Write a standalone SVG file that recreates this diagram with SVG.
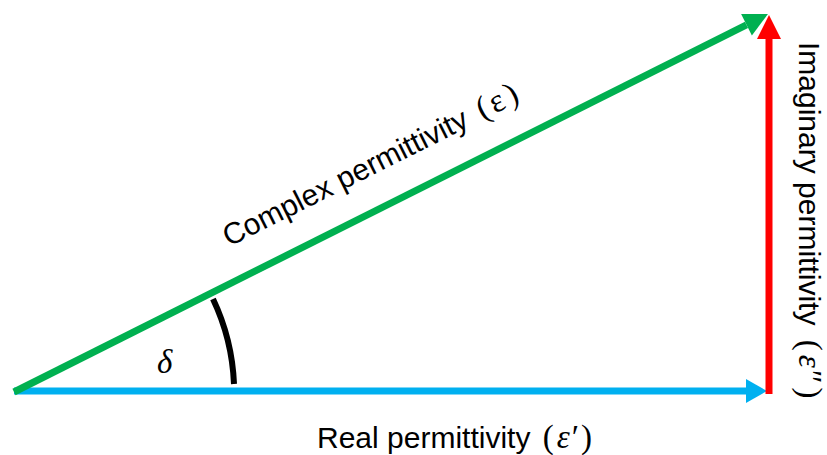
<svg xmlns="http://www.w3.org/2000/svg" width="827" height="455" viewBox="0 0 827 455">
<style>
.lbl{font-family:"Liberation Sans",Arial,sans-serif;font-size:30px;fill:#000}
.math{font-family:"Liberation Serif","DejaVu Serif",serif;font-size:33px}
.it{font-style:italic}
</style>
<defs>
<marker id="hb" markerUnits="userSpaceOnUse" markerWidth="21" markerHeight="24" refX="0" refY="12" orient="auto" overflow="visible"><path d="M0,0 L21,12 L0,24 z" fill="#00B0F0"/></marker>
<marker id="hr" markerUnits="userSpaceOnUse" markerWidth="24" markerHeight="24" refX="0" refY="12" orient="auto" overflow="visible"><path d="M0,0 L24,12 L0,24 z" fill="#FF0000"/></marker>
<marker id="hg" markerUnits="userSpaceOnUse" markerWidth="24" markerHeight="24" refX="0" refY="12" orient="auto" overflow="visible"><path d="M0,0 L24,12 L0,24 z" fill="#00B050"/></marker>
</defs>
<g id="connectors">
<line id="real" x1="14" y1="391" x2="746" y2="391" stroke="#00B0F0" stroke-width="7" marker-end="url(#hb)"/>
<line id="imag" x1="769" y1="394" x2="769" y2="39" stroke="#FF0000" stroke-width="7" marker-end="url(#hr)"/>
<line id="complex" x1="14" y1="392" x2="746.5" y2="24.8" stroke="#00B050" stroke-width="7" marker-end="url(#hg)"/>
<path id="angle" d="M213,299 A220,220 0 0 1 234,384" fill="none" stroke="#000" stroke-width="6"/>
</g>
<g id="label-delta"><text x="157" y="373" class="math it" font-size="31">δ</text></g>
<g id="label-real"><text x="317" y="448" class="lbl">Real permittivity <tspan class="math" dx="4">(</tspan><tspan class="math it" dx="3">ε′</tspan><tspan class="math" dx="4">)</tspan></text></g>
<g id="label-complex"><text x="229" y="247" class="lbl" transform="rotate(-26.6 229 247)">Complex permittivity <tspan class="math" dx="5">(</tspan><tspan class="math" dx="3" font-size="36">ε</tspan><tspan class="math" dx="4">)</tspan></text></g>
<g id="label-imag"><text x="799" y="42" class="lbl" transform="rotate(90 799 42)">Imaginary permittivity <tspan class="math" dx="6" font-size="27">(</tspan><tspan class="math it" dx="4" font-size="27">ε″</tspan><tspan class="math" dx="6" font-size="27">)</tspan></text></g>
</svg>
